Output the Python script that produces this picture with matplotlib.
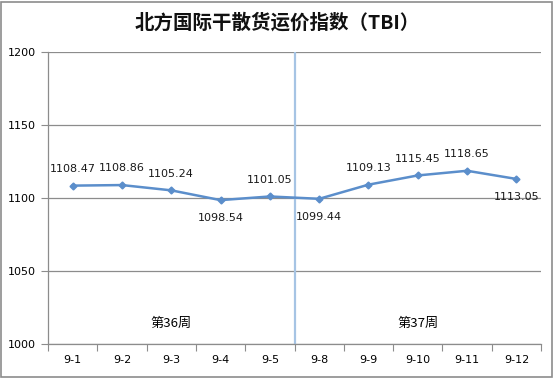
import numpy as np
import matplotlib
matplotlib.use("Agg")
from matplotlib import pyplot as plt
from matplotlib.patches import Rectangle

plt.rcParams['font.family'] = ['DejaVu Sans', 'Noto Sans CJK SC']

dates = ["9-1", "9-2", "9-3", "9-4", "9-5", "9-8", "9-9", "9-10", "9-11", "9-12"]
values = [1108.47, 1108.86, 1105.24, 1098.54, 1101.05, 1099.44, 1109.13, 1115.45, 1118.65, 1113.05]
below = [False, False, False, True, False, True, False, False, False, True]
weeks = ["第36周", "第37周"]
week_centers = [2, 7]
title = "北方国际干散货运价指数（TBI）"

fig = plt.figure(figsize=(5.54, 3.78), dpi=100)
ax = fig.add_axes([0.0866, 0.09, 0.89, 0.7724])

x = np.arange(len(dates))
lineColor = "#5b8ecb"
ax.plot(x, values, color=lineColor, lw=1.8, marker="D", ms=3.5, zorder=3)

for xi, v, b in zip(x, values, below):
    ax.annotate("%.2f" % v, (xi, v), xytext=(0, -13 if b else 12), textcoords="offset points",
                ha="center", va="center", fontsize=8, color="#1a1a1a")

# week separator
ax.axvline(4.5, color="#a6c4e4", lw=1.6, zorder=2)
for c, w in zip(week_centers, weeks):
    ax.text(c, 1014, w, ha="center", va="center", fontsize=9.5,
            family=["Noto Sans CJK SC", "DejaVu Sans"])

ax.set_xlim(-0.5, len(dates) - 0.5)
ax.set_ylim(1000, 1200)
ax.set_yticks([1000, 1050, 1100, 1150, 1200])
ax.yaxis.grid(True, color="#8c8c8c", lw=0.9)
ax.set_axisbelow(True)

ax.set_xticks(np.arange(-0.5, len(dates), 1.0))
ax.set_xticklabels([])
ax.set_xticks(x, minor=True)
ax.set_xticklabels(dates, minor=True)
ax.tick_params(axis="x", which="minor", length=0, pad=8, labelsize=8)
ax.tick_params(axis="x", which="major", length=5, color="#8c8c8c", direction="out")
ax.tick_params(axis="y", length=5, color="#8c8c8c", labelsize=8, pad=4)

for s in ["top", "right"]:
    ax.spines[s].set_visible(False)
for s in ["left", "bottom"]:
    ax.spines[s].set_color("#8c8c8c")
    ax.spines[s].set_linewidth(0.9)

fig.text(0.5, 0.94, title, ha="center", va="center", fontsize=14, fontweight="bold",
         family=["Noto Sans CJK SC", "DejaVu Sans"], color="#111111")

fig.patches.append(Rectangle((0.002, 0.003), 0.995, 0.993, transform=fig.transFigure,
                             fill=False, edgecolor="#8c8c8c", lw=1.2))

fig.savefig("out.png", dpi=100)
